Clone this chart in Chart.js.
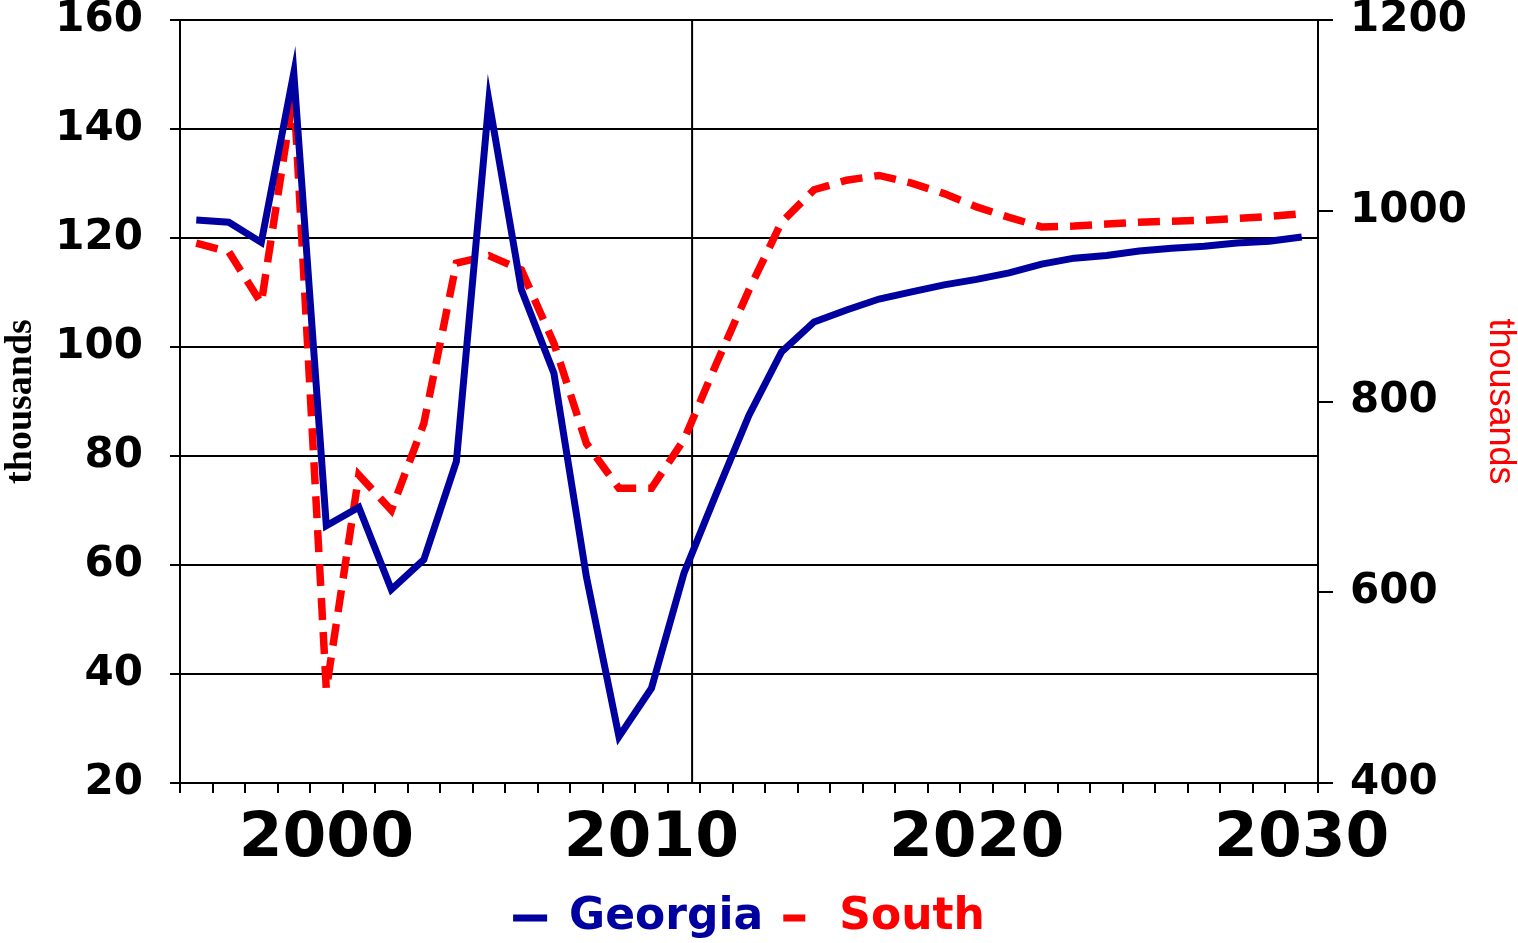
<!DOCTYPE html>
<html lang="en">
<head>
  <meta charset="UTF-8" />
  <title>Georgia and South, thousands</title>
  <script src="https://cdn.jsdelivr.net/npm/chart.js"></script>
  <style>
    html, body { margin: 0; padding: 0; background: #ffffff; }
    canvas { display: block; }
  </style>
</head>
<body>
  <canvas id="grafico" width="1518" height="943"></canvas>

<script>
// data
const years = [1996, 1997, 1998, 1999, 2000, 2001, 2002, 2003, 2004, 2005,
               2006, 2007, 2008, 2009, 2010, 2011, 2012, 2013, 2014, 2015,
               2016, 2017, 2018, 2019, 2020, 2021, 2022, 2023, 2024, 2025,
               2026, 2027, 2028, 2029, 2030];

// Georgia, left axis (thousands)
const georgia = [123.3, 122.9, 119.2, 150.3, 67.2, 70.6, 55.5, 61.0, 79.0, 145.2,
                 110.5, 95.2, 57.8, 28.5, 37.4, 58.5, 73.2, 87.5, 99.1, 104.6,
                 106.8, 108.8, 110.1, 111.4, 112.4, 113.6, 115.2, 116.3, 116.8, 117.6,
                 118.1, 118.5, 119.1, 119.4, 120.2];

// South, right axis (thousands)
const south = [966, 957, 903, 1125, 498, 723, 686, 777, 945, 953,
               938, 861, 756, 709, 709, 760, 840, 917, 988, 1022,
               1032, 1037, 1029, 1018, 1004, 993, 983, 984, 986, 988,
               989, 990, 992, 994, 997];

const leftTicks = [20, 160, 20];     // min, max, step
const rightTicks = [400, 1200, 200]; // min, max, step
const labelYears = [2000, 2010, 2020, 2030];
const forecastLine = 2011.25;        // vertical marker

const georgiaColor = '#0000a0';
const southColor = '#ff0000';
const numFont = 'DejaVu Sans';

// vertical marker line, drawn through the x scale
const markerPlugin = {
  id: 'marker',
  beforeDatasetsDraw(chart) {
    const ctx = chart.ctx;
    const x = chart.scales.x.getPixelForValue(forecastLine - years[0]);
    const area = chart.chartArea;
    ctx.save();
    ctx.strokeStyle = '#000000';
    ctx.lineWidth = 2;
    ctx.beginPath();
    ctx.moveTo(x, area.top);
    ctx.lineTo(x, area.bottom);
    ctx.stroke();
    ctx.restore();
  }
};

// fixed box for the side axes so the plot sits where the original does
function sideAxis(width) {
  return function (scale) {
    scale.width = width;
    scale.paddingTop = 20;
    scale.paddingBottom = 0;
  };
}

const data = {
  labels: years,
  datasets: [
    {
      label: 'Georgia',
      data: georgia,
      yAxisID: 'y',
      borderColor: georgiaColor,
      backgroundColor: georgiaColor,
      borderWidth: 7,
      pointRadius: 0,
      tension: 0,
      fill: false
    },
    {
      label: 'South',
      data: south,
      yAxisID: 'y2',
      borderColor: southColor,
      backgroundColor: southColor,
      borderWidth: 7.5,
      borderDash: [22, 12],
      pointRadius: 0,
      tension: 0,
      fill: false
    }
  ]
};

const config = {
  type: 'line',
  data: data,
  plugins: [markerPlugin],
  options: {
    responsive: false,
    animation: false,
    layout: { padding: { top: 0, right: 0, bottom: -7, left: 0 } },
    plugins: {
      tooltip: { enabled: false },
      legend: {
        position: 'bottom',
        fullSize: false,
        labels: {
          font: { family: numFont, weight: 'bold', size: 44 },
          boxWidth: 34,
          boxHeight: 0,
          padding: 20,
          generateLabels(chart) {
            return chart.data.datasets.map((ds, i) => ({
              text: ds.label,
              fillStyle: 'rgba(0,0,0,0)',
              strokeStyle: ds.borderColor,
              fontColor: ds.borderColor,
              lineWidth: 7,
              lineCap: 'butt',
              lineDash: ds.borderDash ? [22, 100] : [],
              hidden: false,
              datasetIndex: i
            }));
          }
        }
      }
    },
    scales: {
      x: {
        type: 'category',
        offset: true,
        grid: {
          offset: true,
          drawOnChartArea: false,
          color: '#000000',
          lineWidth: 2,
          tickLength: 10
        },
        border: { color: '#000000', width: 2 },
        ticks: {
          autoSkip: false,
          maxRotation: 0,
          color: '#000000',
          padding: 9,
          font: { family: numFont, weight: 'bold', size: 63 },
          callback(value, index) {
            const yr = years[index];
            return labelYears.includes(yr) ? String(yr) : '';
          }
        },
        afterFit(scale) { scale.height = 93; }
      },
      y: {
        position: 'left',
        min: leftTicks[0],
        max: leftTicks[1],
        grid: { color: '#000000', lineWidth: 2, tickLength: 10 },
        border: { color: '#000000', width: 2 },
        ticks: {
          stepSize: leftTicks[2],
          color: '#000000',
          padding: 27,
          font: { family: numFont, weight: 'bold', size: 42 }
        },
        title: {
          display: true,
          text: 'thousands',
          color: '#000000',
          padding: 2,
          font: { family: 'Liberation Serif', weight: 'bold', size: 38, lineHeight: 1 }
        },
        afterFit: sideAxis(180)
      },
      y2: {
        position: 'right',
        min: rightTicks[0],
        max: rightTicks[1],
        grid: { drawOnChartArea: false, color: '#000000', lineWidth: 2, tickLength: 15 },
        border: { color: '#000000', width: 2 },
        ticks: {
          stepSize: rightTicks[2],
          color: '#000000',
          padding: 17,
          font: { family: numFont, weight: 'bold', size: 42 },
          callback(value) { return String(value); }
        },
        title: {
          display: true,
          text: 'thousands',
          color: southColor,
          padding: 0,
          font: { family: 'Liberation Sans', size: 36, lineHeight: 1 }
        },
        afterFit: sideAxis(200)
      }
    }
  }
};

new Chart(document.getElementById('grafico'), config);
</script>
</body>
</html>
